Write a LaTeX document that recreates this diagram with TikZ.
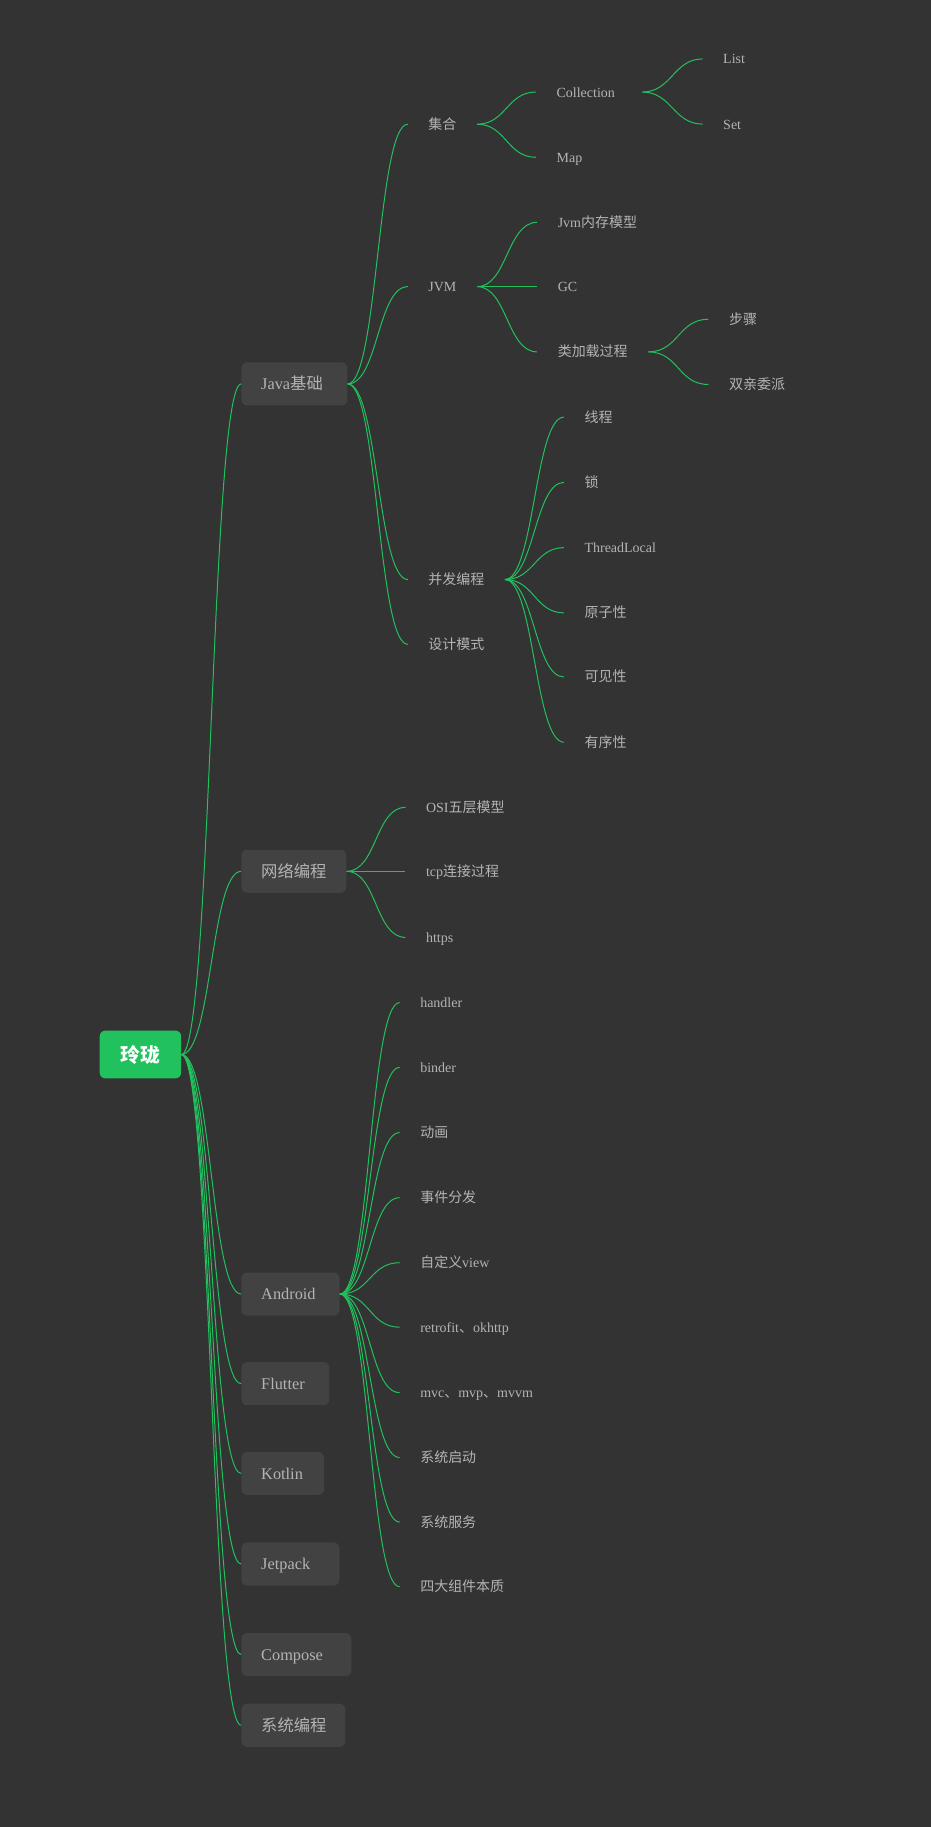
\documentclass[tikz,border=0pt]{standalone}
\usepackage{fontspec}
\setmainfont{Liberation Serif}
\newfontfamily\zh{Noto Sans CJK SC}
\definecolor{bg}{HTML}{333333}
\definecolor{mapgreen}{HTML}{21C25E}
\definecolor{boxgrey}{HTML}{424242}
\definecolor{textgrey}{HTML}{B4B4B4}

\begin{document}
\begin{tikzpicture}[x=1pt, y=-1pt,
    root/.style={fill=mapgreen, rounded corners=5pt, minimum width=70pt,
        minimum height=41pt, inner sep=0pt, text=white,
        font=\fontsize{17pt}{20pt}\selectfont\zh\bfseries,
        text height=13pt, text depth=0pt},
    topic/.style={fill=boxgrey, rounded corners=5pt, anchor=west,
        minimum height=37pt, inner xsep=17pt, inner ysep=0pt, text=textgrey,
        align=left, font=\fontsize{14pt}{16pt}\selectfont,
        text height=10pt, text depth=0pt},
    leaf/.style={anchor=west, inner xsep=17.5pt, inner ysep=2pt, text=textgrey,
        font=\fontsize{12pt}{14pt}\selectfont, text height=8.6pt, text depth=0pt},
    branch/.style={draw=mapgreen, line width=0.85pt}]

% background
\fill [bg] (0,0) rectangle (799,1568);
\useasboundingbox (0,0) rectangle (799,1568);

% Root
\node [root] (root) at (120.5,905) {玲珑};

% Main topics
\node [topic, text width=57pt] (java) at (207,329.5) {Java{\zh 基础}};
\node [topic, text width=56pt] (net) at (207,747.8) {{\zh 网络编程}};
\node [topic, text width=50.3pt] (android) at (207,1110.6) {Android};
\node [topic, text width=41.5pt] (flutter) at (207,1187.5) {Flutter};
\node [topic, text width=37pt] (kotlin) at (207,1264.5) {Kotlin};
\node [topic, text width=50.2pt] (jetpack) at (207,1342.3) {Jetpack};
\node [topic, text width=60.4pt] (compose) at (207,1420) {Compose};
\node [topic, text width=55.3pt] (sysprog) at (207,1480.7) {{\zh 系统编程}};

% Java
\node [leaf] (coll) at (350,106.6) {{\zh 集合}};
\node [leaf] (jvm) at (350,246) {JVM};
\node [leaf] (conc) at (350,497.4) {{\zh 并发编程}};
\node [leaf] (pattern) at (350,553) {{\zh 设计模式}};

\node [leaf] (collection) at (460,79) {Collection};
\node [leaf] (map) at (460,135) {Map};
\node [leaf] (list) at (603,50.6) {List};
\node [leaf] (set) at (603,106.5) {Set};

\node [leaf] (jmm) at (461,190.8) {Jvm{\zh 内存模型}};
\node [leaf] (gc) at (461,246) {GC};
\node [leaf] (classload) at (461,302) {{\zh 类加载过程}};
\node [leaf] (steps) at (608,274) {{\zh 步骤}};
\node [leaf] (delegate) at (608,330) {{\zh 双亲委派}};

\node [leaf] (thread) at (484,358) {{\zh 线程}};
\node [leaf] (lock) at (484,414) {{\zh 锁}};
\node [leaf] (tlocal) at (484,470) {ThreadLocal};
\node [leaf] (atomic) at (484,526) {{\zh 原子性}};
\node [leaf] (visible) at (484,581) {{\zh 可见性}};
\node [leaf] (order) at (484,637) {{\zh 有序性}};

% Network
\node [leaf] (osi) at (348,692.9) {OSI{\zh 五层模型}};
\node [leaf] (tcp) at (348,747.8) {tcp{\zh 连接过程}};
\node [leaf] (https) at (348,804.5) {https};

% Android
\node [leaf] (handler) at (343,860.4) {handler};
\node [leaf] (binder) at (343,916) {binder};
\node [leaf] (anim) at (343,972) {{\zh 动画}};
\node [leaf] (event) at (343,1027.9) {{\zh 事件分发}};
\node [leaf] (view) at (343,1083.7) {{\zh 自定义}view};
\node [leaf] (retrofit) at (343,1139) {retrofit{\zh 、}okhttp};
\node [leaf] (mvc) at (343,1195.2) {mvc{\zh 、}mvp{\zh 、}mvvm};
\node [leaf] (boot) at (343,1250.9) {{\zh 系统启动}};
\node [leaf] (service) at (343,1306.3) {{\zh 系统服务}};
\node [leaf] (four) at (343,1361.8) {{\zh 四大组件本质}};

% root branches
\draw [branch] (root.east) .. controls +(26,0) and +(-26,0) .. (java.west);
\draw [branch] (root.east) .. controls +(26,0) and +(-26,0) .. (net.west);
\draw [branch] (root.east) .. controls +(26,0) and +(-26,0) .. (android.west);
\draw [branch] (root.east) .. controls +(26,0) and +(-26,0) .. (flutter.west);
\draw [branch] (root.east) .. controls +(26,0) and +(-26,0) .. (kotlin.west);
\draw [branch] (root.east) .. controls +(26,0) and +(-26,0) .. (jetpack.west);
\draw [branch] (root.east) .. controls +(26,0) and +(-26,0) .. (compose.west);
\draw [branch] (root.east) .. controls +(26,0) and +(-26,0) .. (sysprog.west);

% Java branches
\draw [branch] (java.east) .. controls +(26,0) and +(-26,0) .. (coll.west);
\draw [branch] (java.east) .. controls +(26,0) and +(-26,0) .. (jvm.west);
\draw [branch] (java.east) .. controls +(26,0) and +(-26,0) .. (conc.west);
\draw [branch] (java.east) .. controls +(26,0) and +(-26,0) .. (pattern.west);
\draw [branch] (coll.east) .. controls +(25,0) and +(-25,0) .. (collection.west);
\draw [branch] (coll.east) .. controls +(25,0) and +(-25,0) .. (map.west);
\draw [branch] ([xshift=6pt]collection.east) .. controls +(25,0) and +(-25,0) .. (list.west);
\draw [branch] ([xshift=6pt]collection.east) .. controls +(25,0) and +(-25,0) .. (set.west);
\draw [branch] (jvm.east) .. controls +(26,0) and +(-26,0) .. (jmm.west);
\draw [branch] (jvm.east) .. controls +(26,0) and +(-26,0) .. (gc.west);
\draw [branch] (jvm.east) .. controls +(26,0) and +(-26,0) .. (classload.west);
\draw [branch] (classload.east) .. controls +(26,0) and +(-26,0) .. (steps.west);
\draw [branch] (classload.east) .. controls +(26,0) and +(-26,0) .. (delegate.west);
\draw [branch] (conc.east) .. controls +(25,0) and +(-25,0) .. (thread.west);
\draw [branch] (conc.east) .. controls +(25,0) and +(-25,0) .. (lock.west);
\draw [branch] (conc.east) .. controls +(25,0) and +(-25,0) .. (tlocal.west);
\draw [branch] (conc.east) .. controls +(25,0) and +(-25,0) .. (atomic.west);
\draw [branch] (conc.east) .. controls +(25,0) and +(-25,0) .. (visible.west);
\draw [branch] (conc.east) .. controls +(25,0) and +(-25,0) .. (order.west);

% Network branches
\draw [branch] (net.east) .. controls +(26,0) and +(-26,0) .. (osi.west);
\draw [branch] (net.east) .. controls +(26,0) and +(-26,0) .. (tcp.west);
\draw [branch] (net.east) .. controls +(26,0) and +(-26,0) .. (https.west);

% Android branches
\draw [branch] (android.east) .. controls +(26,0) and +(-26,0) .. (handler.west);
\draw [branch] (android.east) .. controls +(26,0) and +(-26,0) .. (binder.west);
\draw [branch] (android.east) .. controls +(26,0) and +(-26,0) .. (anim.west);
\draw [branch] (android.east) .. controls +(26,0) and +(-26,0) .. (event.west);
\draw [branch] (android.east) .. controls +(26,0) and +(-26,0) .. (view.west);
\draw [branch] (android.east) .. controls +(26,0) and +(-26,0) .. (retrofit.west);
\draw [branch] (android.east) .. controls +(26,0) and +(-26,0) .. (mvc.west);
\draw [branch] (android.east) .. controls +(26,0) and +(-26,0) .. (boot.west);
\draw [branch] (android.east) .. controls +(26,0) and +(-26,0) .. (service.west);
\draw [branch] (android.east) .. controls +(26,0) and +(-26,0) .. (four.west);

\end{tikzpicture}
\end{document}
